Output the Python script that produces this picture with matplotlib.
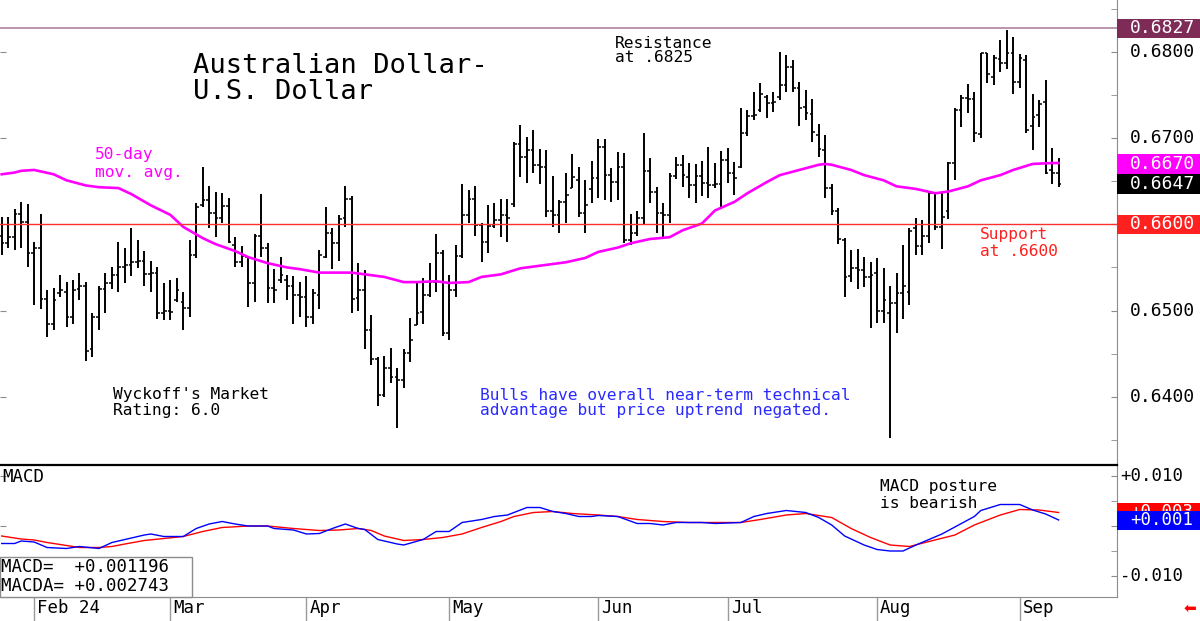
import matplotlib
matplotlib.use("Agg")
import matplotlib.pyplot as plt
import matplotlib.transforms as mtransforms
from matplotlib.patches import Rectangle
import numpy as np
import pandas as pd

plt.rcParams['font.family'] = ['DejaVu Sans Mono', 'DejaVu Sans']

# Daily AUD/USD bars, late Jan to early Sep 2024
dates = pd.bdate_range('2024-01-25', '2024-09-10')

opens = [
    .6587, .6578, .6585, .6612, .6603, .6567, .6573, .6513, .6485, .6520,
    .6521, .6493, .6525, .6529, .6456, .6492, .6525, .6532, .6541, .6550,
    .6553, .6556, .6557, .6542, .6544, .6497, .6500, .6512, .6510, .6503,
    .6564, .6622, .6628, .6613, .6607, .6621, .6576, .6556, .6562, .6532,
    .6587, .6573, .6526, .6535, .6536, .6529, .6518, .6516, .6492, .6518,
    .6562, .6590, .6578, .6607, .6629, .6514, .6524, .6478, .6444, .6402,
    .6434, .6423, .6419, .6451, .6483, .6498, .6518, .6533, .6567, .6474,
    .6524, .6563, .6611, .6629, .6599, .6580, .6598, .6605, .6611, .6623,
    .6693, .6678, .6686, .6669, .6666, .6616, .6611, .6626, .6642, .6651,
    .6613, .6641, .6654, .6690, .6657, .6649, .6666, .6582, .6590, .6607,
    .6662, .6637, .6613, .6611, .6656, .6669, .6655, .6645, .6656, .6648,
    .6645, .6647, .6674, .6660, .6666, .6706, .6725, .6732, .6747, .6741,
    .6747, .6761, .6782, .6758, .6736, .6728, .6703, .6686, .6642, .6616,
    .6582, .6540, .6549, .6547, .6539, .6543, .6500, .6497, .6509, .6520,
    .6521, .6596, .6575, .6587, .6636, .6597, .6615, .6671, .6732, .6746,
    .6745, .6705, .6799, .6771, .6792, .6787, .6799, .6765, .6790, .6714,
    .6727, .6742, .6663, .6660]
highs = [
    .6609, .6609, .6618, .6626, .6623, .6579, .6612, .6524, .6526, .6541,
    .6533, .6536, .6543, .6533, .6497, .6529, .6544, .6551, .6579, .6573,
    .6596, .6582, .6569, .6558, .6550, .6532, .6536, .6538, .6521, .6582,
    .6625, .6667, .6644, .6638, .6636, .6631, .6585, .6575, .6562, .6589,
    .6635, .6578, .6548, .6562, .6541, .6540, .6533, .6540, .6525, .6570,
    .6620, .6596, .6611, .6644, .6633, .6555, .6547, .6495, .6446, .6447,
    .6457, .6434, .6455, .6491, .6532, .6538, .6555, .6589, .6570, .6541,
    .6576, .6647, .6640, .6644, .6601, .6622, .6625, .6629, .6629, .6695,
    .6715, .6701, .6709, .6687, .6686, .6656, .6628, .6659, .6681, .6667,
    .6651, .6673, .6699, .6699, .6665, .6684, .6683, .6612, .6615, .6706,
    .6677, .6643, .6625, .6659, .6678, .6680, .6671, .6670, .6673, .6690,
    .6671, .6685, .6688, .6672, .6735, .6732, .6753, .6764, .6750, .6753,
    .6800, .6796, .6790, .6765, .6756, .6745, .6716, .6703, .6647, .6619,
    .6584, .6570, .6571, .6562, .6556, .6561, .6549, .6528, .6543, .6576,
    .6596, .6607, .6605, .6637, .6638, .6636, .6672, .6735, .6750, .6763,
    .6753, .6799, .6799, .6796, .6814, .6825, .6817, .6797, .6796, .6751,
    .6744, .6767, .6688, .6677]
lows = [
    .6564, .6572, .6570, .6573, .6550, .6507, .6502, .6469, .6478, .6516,
    .6481, .6485, .6512, .6442, .6446, .6477, .6497, .6525, .6521, .6532,
    .6540, .6549, .6529, .6521, .6490, .6489, .6489, .6510, .6478, .6492,
    .6561, .6620, .6596, .6585, .6601, .6578, .6551, .6550, .6504, .6510,
    .6562, .6509, .6509, .6532, .6512, .6485, .6492, .6481, .6485, .6502,
    .6561, .6548, .6558, .6597, .6497, .6500, .6455, .6437, .6389, .6400,
    .6416, .6364, .6410, .6440, .6483, .6485, .6516, .6522, .6471, .6466,
    .6516, .6561, .6601, .6586, .6556, .6567, .6596, .6585, .6579, .6620,
    .6655, .6648, .6660, .6647, .6608, .6597, .6590, .6601, .6642, .6609,
    .6590, .6625, .6631, .6628, .6626, .6628, .6578, .6576, .6587, .6599,
    .6625, .6590, .6584, .6601, .6652, .6643, .6630, .6625, .6633, .6630,
    .6642, .6619, .6648, .6634, .6665, .6702, .6721, .6730, .6723, .6730,
    .6744, .6753, .6753, .6714, .6721, .6695, .6678, .6631, .6611, .6577,
    .6516, .6533, .6525, .6527, .6480, .6486, .6486, .6352, .6474, .6490,
    .6507, .6564, .6564, .6578, .6593, .6571, .6606, .6651, .6713, .6729,
    .6695, .6700, .6764, .6761, .6776, .6780, .6751, .6758, .6706, .6686,
    .6713, .6658, .6647, .6643]
closes = [
    .6578, .6585, .6612, .6603, .6567, .6573, .6513, .6484, .6512, .6524,
    .6493, .6524, .6529, .6453, .6492, .6525, .6532, .6541, .6550, .6553,
    .6556, .6557, .6542, .6544, .6497, .6500, .6498, .6524, .6503, .6564,
    .6620, .6628, .6613, .6607, .6621, .6580, .6556, .6563, .6532, .6587,
    .6573, .6526, .6524, .6541, .6529, .6518, .6516, .6492, .6520, .6564,
    .6590, .6578, .6606, .6629, .6513, .6524, .6478, .6444, .6402, .6434,
    .6423, .6419, .6451, .6466, .6497, .6518, .6533, .6567, .6474, .6524,
    .6563, .6611, .6629, .6599, .6580, .6598, .6605, .6611, .6607, .6693,
    .6678, .6686, .6669, .6666, .6616, .6611, .6626, .6634, .6655, .6613,
    .6622, .6654, .6690, .6657, .6649, .6666, .6582, .6590, .6607, .6662,
    .6637, .6613, .6611, .6656, .6669, .6657, .6645, .6656, .6648, .6645,
    .6647, .6674, .6660, .6654, .6706, .6725, .6727, .6751, .6741, .6742,
    .6761, .6782, .6758, .6735, .6729, .6707, .6687, .6642, .6616, .6583,
    .6539, .6549, .6547, .6539, .6541, .6500, .6512, .6509, .6520, .6529,
    .6592, .6575, .6587, .6636, .6597, .6609, .6671, .6732, .6746, .6745,
    .6706, .6799, .6774, .6793, .6787, .6799, .6765, .6793, .6709, .6724,
    .6739, .6659, .6660, .6647]

# 50-day moving average, sampled at bar positions
ma_idx = [0, 2, 3, 5, 8, 10, 13, 15, 18, 20, 23, 26, 28, 31, 33, 36, 38, 41,
          44, 46, 49, 51, 54, 56, 59, 62, 64, 67, 69, 72, 74, 77, 80, 82, 85,
          87, 90, 92, 95, 97, 100, 103, 105, 108, 110, 113, 115, 118, 120,
          123, 126, 127, 128, 131, 133, 136, 138, 141, 144, 146, 149, 151,
          154, 156, 159, 162, 163]
ma_val = [.6658, .6660, .6662, .6663, .6658, .6651, .6645, .6643, .6642, .6635,
          .6622, .6611, .6597, .6584, .6577, .6569, .6562, .6555, .6550, .6548,
          .6544, .6544, .6544, .6542, .6539, .6533, .6533, .6534, .6532, .6533,
          .6539, .6542, .6549, .6551, .6554, .6556, .6561, .6568, .6573, .6578,
          .6583, .6585, .6593, .6601, .6616, .6626, .6636, .6649, .6657, .6663,
          .6669, .6670, .6669, .6663, .6657, .6651, .6644, .6641, .6636, .6638,
          .6644, .6651, .6657, .6663, .6670, .6671, .6671]

# MACD (blue) and its average MACDA (red)
macd_idx = [0, 2, 3, 5, 7, 10, 12, 15, 17, 19, 22, 23, 25, 28, 30, 32, 34, 36,
            38, 41, 42, 45, 47, 49, 51, 53, 55, 56, 58, 61, 62, 65, 67, 69, 71,
            74, 76, 78, 80, 81, 83, 85, 87, 89, 91, 92, 95, 98, 100, 102, 104,
            108, 110, 114, 116, 118, 121, 124, 126, 128, 130, 133, 135, 137,
            139, 141, 143, 145, 148, 150, 151, 154, 157, 159, 161, 163]
macd_val = [-.0035, -.0035, -.0030, -.0032, -.0043, -.0045, -.0041, -.0045,
            -.0033, -.0027, -.0018, -.0016, -.0021, -.0021, -.0005, .0004,
            .0009, .0004, .0000, .0000, -.0005, -.0008, -.0016, -.0015, -.0005,
            .0004, -.0005, -.0007, -.0027, -.0036, -.0038, -.0027, -.0011,
            -.0011, .0007, .0013, .0019, .0022, .0032, .0037, .0037, .0029,
            .0025, .0019, .0019, .0021, .0019, .0005, .0005, .0002, .0007,
            .0007, .0005, .0007, .0019, .0025, .0031, .0027, .0017, .0002,
            -.0020, -.0038, -.0047, -.0050, -.0050, -.0038, -.0027, -.0016,
            .0005, .0019, .0031, .0043, .0043, .0032, .0024, .0012]
sig_idx = [0, 3, 5, 7, 10, 12, 15, 17, 19, 22, 25, 28, 31, 34, 38, 41, 45, 49,
           52, 55, 57, 59, 62, 65, 68, 71, 74, 77, 79, 82, 85, 88, 92, 95, 98,
           102, 106, 110, 114, 117, 121, 124, 128, 131, 134, 137, 140, 143,
           147, 150, 154, 157, 160, 163]
sig_val = [-.0020, -.0026, -.0028, -.0033, -.0039, -.0043, -.0043, -.0041,
           -.0036, -.0029, -.0025, -.0021, -.0011, -.0003, .0000, .0000,
           -.0005, -.0009, -.0008, -.0005, -.0009, -.0020, -.0029, -.0027,
           -.0023, -.0016, -.0003, .0009, .0019, .0027, .0029, .0025, .0022,
           .0019, .0013, .0009, .0007, .0007, .0007, .0013, .0022, .0025,
           .0017, -.0005, -.0023, -.0038, -.0041, -.0031, -.0018, .0002,
           .0022, .0033, .0032, .0027]

month_labels = ['Feb 24', 'Mar', 'Apr', 'May', 'Jun', 'Jul', 'Aug', 'Sep']
price_ticks = [0.6800, 0.6700, 0.6500, 0.6400]
resistance = 0.6827
support = 0.6600
ma_last = 0.6670
macd_last = 0.001196
macda_last = 0.002743

W, H = 1200, 621
fig = plt.figure(figsize=(12, 6.21), dpi=100)
ax = fig.add_axes([0, 1 - 465 / H, 1117 / W, 465 / H])
axm = fig.add_axes([0, 1 - 597 / H, 1117 / W, 132 / H])

def fx(px):
    return px / W

def fy(py):
    return 1 - py / H

x = np.arange(len(dates))
for a in (ax, axm):
    a.set_xlim(-0.26, 172.0)
    a.set_xticks([])
    for s in a.spines.values():
        s.set_visible(False)
    a.spines['right'].set_visible(True)
    a.spines['right'].set_color('#8c8c8c')

ax.set_ylim(0.6321, 0.6860)
axm.set_ylim(-0.0142, 0.0122)
axm.spines['top'].set_visible(True)
axm.spines['top'].set_linewidth(1.6)
axm.spines['top'].set_color('black')
axm.spines['bottom'].set_visible(True)
axm.spines['bottom'].set_color('#8c8c8c')

# y ticks: major every 0.01 on both sides, minor 0.005 on the right only
ax.set_yticks(np.arange(0.64, 0.6851, 0.01))
ax.set_yticks(np.arange(0.635, 0.6851, 0.01), minor=True)
axm.set_yticks([-0.010, 0.0, 0.010])
axm.set_yticks([-0.005, 0.005], minor=True)
for a in (ax, axm):
    a.tick_params(axis='y', which='major', left=True, right=True,
                  direction='in', length=4, color='#8c8c8c',
                  labelleft=False, labelright=False)
    a.tick_params(axis='y', which='minor', left=False, right=True,
                  direction='in', length=4, color='#8c8c8c')

# price bars
ax.vlines(x, lows, highs, color='black', lw=1.4)
ax.hlines(opens, x - 0.42, x, color='black', lw=1.1)
ax.hlines(closes, x, x + 0.42, color='black', lw=1.1)
ax.plot(ma_idx, ma_val, color='#ff00ff', lw=1.9)
ax.axhline(resistance, color='#b58ea8', lw=1.3)
ax.axhline(support, color='#ff3030', lw=1.0)

# MACD lines
axm.plot(sig_idx, sig_val, color='#ff0000', lw=1.0)
axm.plot(macd_idx, macd_val, color='#0000ff', lw=1.0)

# right-hand labels
bt = mtransforms.blended_transform_factory(ax.transAxes, ax.transData)
btm = mtransforms.blended_transform_factory(axm.transAxes, axm.transData)
for v in price_ticks:
    ax.text(1.0116, v, f'{v:.4f}', transform=bt, va='center', ha='left',
            fontsize=13, clip_on=False)

def tag(a, tr, v, txt, fc, h, size=13, z=3):
    a.add_patch(Rectangle((1.0, v - h / 2), 83 / 1117, h, transform=tr,
                          fc=fc, ec='none', clip_on=False, zorder=z))
    a.text(1.0116, v, txt, transform=tr, va='center', ha='left',
           fontsize=size, color='white', clip_on=False, zorder=z + 0.1)

tag(ax, bt, resistance, f'{resistance:.4f}', '#7e2b58', 0.00226)
tag(ax, bt, ma_last, f'{ma_last:.4f}', '#ff00ff', 0.00226)
tag(ax, bt, closes[-1], f'{closes[-1]:.4f}', '#000000', 0.00226)
tag(ax, bt, support, f'{support:.4f}', '#ff2020', 0.00226)

for v in (0.010, -0.010):
    axm.text(1.0027, v, f'{v:+.3f}', transform=btm, va='center', ha='left',
             fontsize=12.5, clip_on=False)
# the blue MACD tag sits on top of the red MACDA tag, as in the original
tag(axm, btm, macda_last, f'{macda_last:+.3f}', '#ff0000', 0.0038, 12.5, z=3)
tag(axm, btm, macd_last, f'{macd_last:+.3f}', '#0000ff', 0.0038, 12.5, z=4)

# month ticks and labels in the date strip
month_idx = [i for i in range(1, len(dates)) if dates[i].month != dates[i - 1].month]
bx = mtransforms.blended_transform_factory(axm.transData, axm.transAxes)
axm.vlines(month_idx, -24 / 132, 0, transform=bx, color='#9a9a9a', lw=1.0,
           clip_on=False)
for m, lab in zip(month_idx, month_labels):
    axm.text(m + 0.45, -0.083, lab, transform=bx, ha='left', va='center',
             fontsize=12.5, clip_on=False)

# annotations
fig.text(fx(193), fy(66), 'Australian Dollar-', fontsize=19.5, va='center')
fig.text(fx(193), fy(92), 'U.S. Dollar', fontsize=19.5, va='center')
fig.text(fx(615), fy(43), 'Resistance', fontsize=11.7, va='center')
fig.text(fx(615), fy(58), 'at .6825', fontsize=11.7, va='center')
fig.text(fx(95), fy(155), '50-day', fontsize=11.7, va='center', color='#ff00ff')
fig.text(fx(95), fy(172), 'mov. avg.', fontsize=11.7, va='center', color='#ff00ff')
fig.text(fx(980), fy(235), 'Support', fontsize=11.7, va='center', color='#ff2020')
fig.text(fx(980), fy(251), 'at .6600', fontsize=11.7, va='center', color='#ff2020')
fig.text(fx(113), fy(395), "Wyckoff's Market", fontsize=11.7, va='center')
fig.text(fx(113), fy(411), 'Rating: 6.0', fontsize=11.7, va='center')
fig.text(fx(480), fy(395), 'Bulls have overall near-term technical',
         fontsize=11.7, va='center', color='#2a2aff')
fig.text(fx(480), fy(411), 'advantage but price uptrend negated.',
         fontsize=11.7, va='center', color='#2a2aff')
fig.text(fx(2), fy(477), 'MACD', fontsize=12.5, va='center')
fig.text(fx(880), fy(486), 'MACD posture', fontsize=11.7, va='center')
fig.text(fx(880), fy(503), 'is bearish', fontsize=11.7, va='center')

# MACD value box
fig.patches.append(Rectangle((fx(0), fy(597)), fx(192), 40 / H,
                             transform=fig.transFigure, fc='white',
                             ec='#8c8c8c', lw=1.0, zorder=5))
fig.text(fx(1), fy(567), f'MACD=  {macd_last:+.6f}', fontsize=12.5,
         va='center', zorder=6)
fig.text(fx(1), fy(586), f'MACDA= {macda_last:+.6f}', fontsize=12.5,
         va='center', zorder=6)

fig.text(fx(1190), fy(608), '\u2b05', fontsize=11, color='#ff0000',
         ha='center', va='center', family=['DejaVu Sans'])

fig.savefig('out.png', dpi=100)
